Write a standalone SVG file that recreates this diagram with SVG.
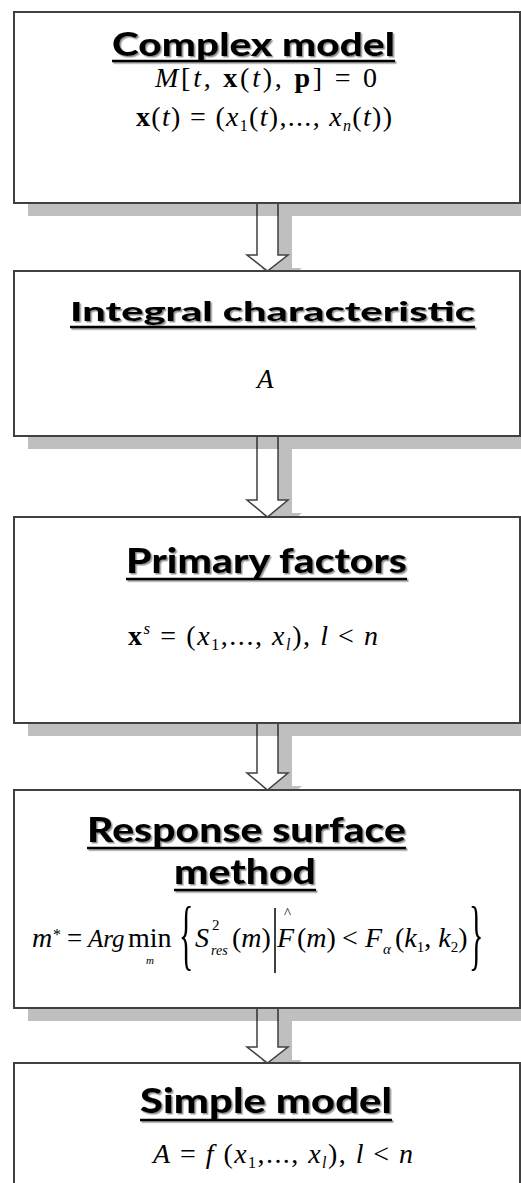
<svg xmlns="http://www.w3.org/2000/svg" width="521" height="1183" viewBox="0 0 521 1183">
<defs>
<filter id="ts" x="-5%" y="-20%" width="110%" height="150%">
<feDropShadow dx="1.5" dy="1.5" stdDeviation="0.6" flood-color="#777" flood-opacity="0.8"/>
</filter>
</defs>
<style>
.box{fill:#fff;stroke:#404040;stroke-width:2}
.bsh{fill:#000;fill-opacity:0.25}
.ash{fill:#bfbfbf}
.arr{fill:#fff;stroke:#404040;stroke-width:1.5;stroke-linejoin:miter}
.title{font-family:Lato,"Liberation Sans",sans-serif;font-weight:900;fill:#000}
.ul{stroke:#000;stroke-width:2.5}
.m{font-family:"Liberation Serif","Times New Roman",serif;fill:#000}
.i{font-style:italic}
.b{font-weight:bold}
</style>
<rect width="521" height="1183" fill="#fff"/>

<g id="connectors">
<polygon class="ash" points="271,216 292,216 292,268 302,268 281.5,284 261,268 271,268"/>
<polygon class="arr" points="257,203 278,203 278,255 288,255 267.5,271 247,255 257,255"/>
<polygon class="ash" points="271,449 292,449 292,513 302,513 281.5,530 261,513 271,513"/>
<polygon class="arr" points="257,436 278,436 278,500 288,500 267.5,517 247,500 257,500"/>
<polygon class="ash" points="271,736 292,736 292,786 302,786 281.5,803 261,786 271,786"/>
<polygon class="arr" points="257,723 278,723 278,773 288,773 267.5,790 247,773 257,773"/>
<polygon class="ash" points="271,1021 292,1021 292,1060 302,1060 281.5,1076 261,1060 271,1060"/>
<polygon class="arr" points="257,1008 278,1008 278,1047 288,1047 267.5,1063 247,1047 257,1047"/>
</g>

<g id="complex-model">
<rect class="bsh" x="28" y="25" width="510" height="191"/>
<rect class="box" x="14" y="12" width="506" height="191"/>
<g filter="url(#ts)">
<text class="title" x="112" y="56" font-size="33" textLength="283" lengthAdjust="spacingAndGlyphs">Complex model</text>
<line class="ul" x1="112" y1="61" x2="395" y2="61"/>
</g>
<text class="m" x="155" y="87" font-size="28" textLength="222" lengthAdjust="spacing"><tspan class="i">M</tspan>[<tspan class="i">t</tspan>, <tspan class="b">x</tspan>(<tspan class="i">t</tspan>), <tspan class="b">p</tspan>] = 0</text>
<text class="m" x="136" y="126" font-size="28" textLength="256" lengthAdjust="spacing"><tspan class="b">x</tspan>(<tspan class="i">t</tspan>) = (<tspan class="i">x</tspan><tspan font-size="16" dy="5">1</tspan><tspan dy="-5">(</tspan><tspan class="i">t</tspan>),..., <tspan class="i">x</tspan><tspan class="i" font-size="16" dy="5">n</tspan><tspan dy="-5">(</tspan><tspan class="i">t</tspan>))</text>
</g>

<g id="integral-characteristic">
<rect class="bsh" x="28" y="284" width="510" height="165"/>
<rect class="box" x="14" y="271" width="506" height="165"/>
<g filter="url(#ts)">
<text class="title" x="70" y="321" font-size="27" textLength="405" lengthAdjust="spacingAndGlyphs">Integral characteristic</text>
<line class="ul" x1="70" y1="327" x2="475" y2="327"/>
</g>
<text class="m i" x="257" y="388" font-size="27">A</text>
</g>

<g id="primary-factors">
<rect class="bsh" x="28" y="530" width="510" height="206"/>
<rect class="box" x="14" y="517" width="506" height="206"/>
<g filter="url(#ts)">
<text class="title" x="126" y="573" font-size="34" textLength="281" lengthAdjust="spacingAndGlyphs">Primary factors</text>
<line class="ul" x1="126" y1="579" x2="407" y2="579"/>
</g>
<text class="m" x="128" y="645" font-size="28" textLength="250" lengthAdjust="spacing"><tspan class="b">x</tspan><tspan class="i" font-size="17" dy="-11">s</tspan><tspan dy="11"> = (</tspan><tspan class="i">x</tspan><tspan font-size="16" dy="5">1</tspan><tspan dy="-5">,..., </tspan><tspan class="i">x</tspan><tspan class="i" font-size="16" dy="5">l</tspan><tspan dy="-5">), </tspan><tspan class="i">l</tspan> &lt; <tspan class="i">n</tspan></text>
</g>

<g id="response-surface-method">
<rect class="bsh" x="28" y="803" width="510" height="218"/>
<rect class="box" x="14" y="790" width="506" height="218"/>
<g filter="url(#ts)">
<text class="title" x="87" y="842" font-size="34" textLength="319" lengthAdjust="spacingAndGlyphs">Response surface</text>
<line class="ul" x1="87" y1="848" x2="406" y2="848"/>
<text class="title" x="174" y="884" font-size="34" textLength="142" lengthAdjust="spacingAndGlyphs">method</text>
<line class="ul" x1="174" y1="890" x2="316" y2="890"/>
</g>
<g class="m">
<text class="i" x="32" y="947" font-size="28">m</text>
<text x="53" y="940" font-size="16">*</text>
<text x="67" y="947" font-size="27">=</text>
<text class="i" x="88" y="947" font-size="25">Arg</text>
<text x="128" y="947" font-size="28">min</text>
<text class="i" x="146" y="964" font-size="11">m</text>
<text transform="translate(179,961) scale(1,2.6)" font-size="30">{</text>
<text class="i" x="195" y="947" font-size="28">S</text>
<text x="212" y="930" font-size="15">2</text>
<text class="i" x="211" y="955" font-size="14">res</text>
<text x="232" y="947" font-size="28">(<tspan class="i">m</tspan>)</text>
<line x1="275" y1="908" x2="275" y2="973" stroke="#000" stroke-width="1.5"/>
<text class="i" x="277" y="947" font-size="28">F</text>
<text x="284" y="918" font-size="15">^</text>
<text x="297" y="947" font-size="28">(<tspan class="i">m</tspan>)</text>
<text x="342" y="947" font-size="28">&lt;</text>
<text class="i" x="365" y="947" font-size="28">F</text>
<text class="i" x="383" y="954" font-size="15">α</text>
<text x="395" y="947" font-size="28">(<tspan class="i">k</tspan><tspan font-size="15" dy="5">1</tspan><tspan dy="-5">, </tspan><tspan class="i">k</tspan><tspan font-size="15" dy="5">2</tspan><tspan dy="-5">)</tspan></text>
<text transform="translate(469,961) scale(1,2.6)" font-size="30">}</text>
</g>
</g>

<g id="simple-model">
<rect class="bsh" x="28" y="1076" width="510" height="140"/>
<rect class="box" x="14" y="1063" width="506" height="140"/>
<g filter="url(#ts)">
<text class="title" x="140" y="1113" font-size="34" textLength="252" lengthAdjust="spacingAndGlyphs">Simple model</text>
<line class="ul" x1="140" y1="1120" x2="392" y2="1120"/>
</g>
<text class="m" x="153" y="1163" font-size="28" textLength="260" lengthAdjust="spacing"><tspan class="i">A</tspan> = <tspan class="i">f</tspan> (<tspan class="i">x</tspan><tspan font-size="16" dy="5">1</tspan><tspan dy="-5">,..., </tspan><tspan class="i">x</tspan><tspan class="i" font-size="16" dy="5">l</tspan><tspan dy="-5">), </tspan><tspan class="i">l</tspan> &lt; <tspan class="i">n</tspan></text>
</g>
</svg>
